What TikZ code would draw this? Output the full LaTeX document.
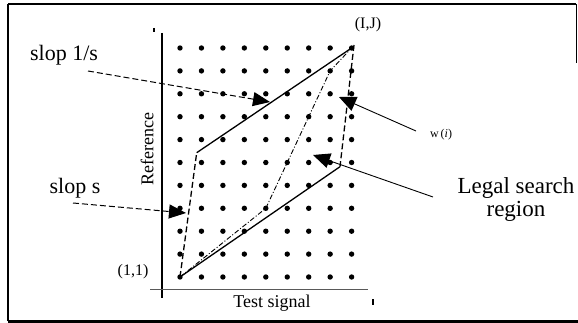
\documentclass[tikz,border=0pt]{standalone}
\usepackage{fontspec}
\setmainfont{Liberation Serif}
\usetikzlibrary{arrows.meta}
\begin{document}
\begin{tikzpicture}[x=1pt,y=-1pt,
  gdot/.style={fill=black},
  lbl/.style={inner sep=0pt, font=\fontsize{22}{24}\selectfont},
  smalllbl/.style={inner sep=0pt, font=\fontsize{16}{18}\selectfont},
  bound/.style={line width=1.3pt},
  bounddash/.style={line width=1.3pt, dash pattern=on 6pt off 3pt},
  wpath/.style={line width=0.9pt, dash pattern=on 5pt off 2pt on 1pt off 2pt},
  callout/.style={line width=1pt, dash pattern=on 6pt off 3pt, -{Triangle[length=17pt,width=14pt]}},
  pointer/.style={line width=0.9pt, -{Triangle[length=17pt,width=15pt]}},
  frame/.style={line width=2pt}]
\useasboundingbox (0,0) rectangle (578,323);
% frame
\draw[frame] (8,4) -- (576,4);
\draw[line width=1.5pt] (8,4) -- (8,321);
\draw[line width=2.5pt] (8,321.5) -- (578,321.5);
\draw[line width=1pt] (576,4) -- (576,63);
% axes
\draw[line width=1.2pt] (162,33) -- (162,298);
\draw[line width=0.8pt, black!65] (150,289) -- (368,289);
\draw[line width=1.5pt] (154,28) -- (154,32);
\draw[line width=1.5pt] (373,299) -- (373,305);
% grid of dots
\foreach \i in {0,...,8} {
  \foreach \j in {0,...,10} {
    \fill[gdot] (180+\i*21.45, 48+\j*22.9) circle (2.7);
  }
}
% key points
\coordinate (A) at (180,277);
\coordinate (IJ) at (351.6,48);
\coordinate (IJr) at (354,45);
\coordinate (UL) at (196.7,152.7);
\coordinate (LR) at (340,166.7);
\coordinate (W1) at (265.8,208.3);
\coordinate (W2) at (330.15,70.9);
% legal region boundary
\draw[bound] (A) -- (LR);
\draw[bound] (UL) -- (IJ);
\draw[bounddash] (A) -- (UL);
\draw[bounddash] (IJr) -- (LR);
% warping path
\draw[wpath] (A) -- (W1) -- (W2) -- (IJ);
% labels
\node[lbl] (s1) at (64,55) {slop 1/s};
\node[lbl] (s2) at (75,188) {slop s};
\node[smalllbl] (p11) at (133,272) {(1,1)};
\node[smalllbl] (pIJ) at (368,25) {(I,J)};
\node[inner sep=0pt, font=\fontsize{12}{14}\selectfont] (wl) at (441,135) {w\,(\textit{i})};
\node[lbl, align=center, font=\fontsize{23}{23}\selectfont] (legal) at (516,200) {Legal search\\region};
\node[inner sep=0pt, font=\fontsize{18}{20}\selectfont] (ts) at (272,303) {Test signal};
\node[inner sep=0pt, font=\fontsize{18}{20}\selectfont, rotate=90] (ref) at (147,149) {Reference};
% callouts
\coordinate (c1) at (88,71);
\coordinate (t1) at (270,102);
\coordinate (c2) at (73,203);
\coordinate (t2) at (186,213);
\coordinate (c3) at (416,131);
\coordinate (t3) at (339,97);
\coordinate (c4) at (433,197);
\coordinate (t4) at (313,155);
\draw[callout] (c1) -- (t1);
\draw[callout] (c2) -- (t2);
\draw[pointer] (c3) -- (t3);
\draw[pointer] (c4) -- (t4);
\end{tikzpicture}
\end{document}
